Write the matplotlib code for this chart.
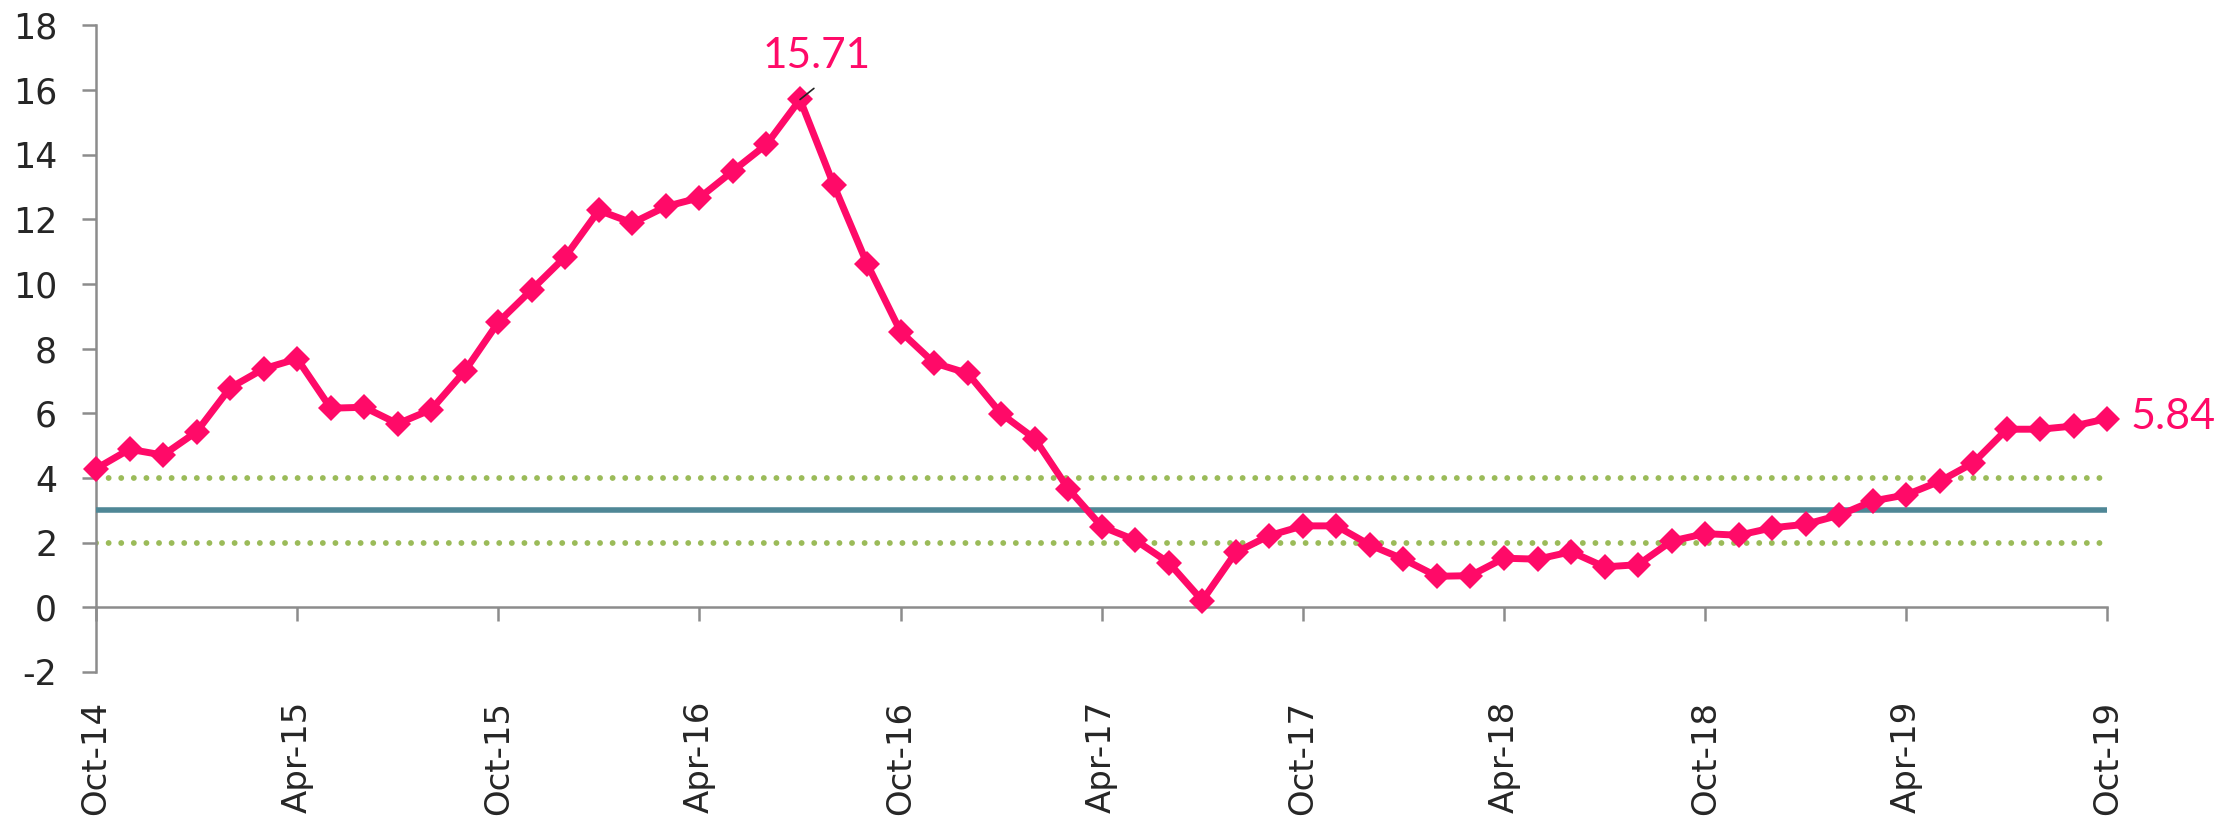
import matplotlib
matplotlib.use('Agg')
import matplotlib.pyplot as plt
import pandas as pd

# ---------------- data ----------------
months = list(pd.date_range('2014-10-01', periods=61, freq='MS').strftime('%b-%y'))
inflation = [4.29, 4.89, 4.71, 5.43, 6.79, 7.38, 7.69, 6.16, 6.19, 5.68, 6.12, 7.31, 8.82, 9.83, 10.85,
             12.28, 11.89, 12.40, 12.67, 13.50, 14.32, 15.71, 13.08, 10.63, 8.53, 7.56, 7.24, 5.99, 5.22, 3.67,
             2.50, 2.08, 1.38, 0.21, 1.70, 2.22, 2.52, 2.52, 1.93, 1.49, 0.96, 0.98, 1.52, 1.49, 1.72, 1.25, 1.32,
             2.05, 2.28, 2.23, 2.46, 2.57, 2.85, 3.29, 3.48, 3.90, 4.47, 5.51, 5.51, 5.61, 5.84]
target = [3.0] * len(months)
band_upper = [4.0] * len(months)
band_lower = [2.0] * len(months)
tick_labels = ['Oct-14', 'Apr-15', 'Oct-15', 'Apr-16', 'Oct-16', 'Apr-17',
               'Oct-17', 'Apr-18', 'Oct-18', 'Apr-19', 'Oct-19']
y_ticks = [-2, 0, 2, 4, 6, 8, 10, 12, 14, 16, 18]
peak_label = '15.71'
last_label = '5.84'

# ---------------- style ----------------
pink = '#FF0A68'
teal = '#4F8796'
green = '#9BBB59'
axis_gray = '#8C8C8C'
text_dark = '#262626'

fig = plt.figure(figsize=(22.23, 8.19), dpi=100)
ax = fig.add_axes([0.0432, 0.1795, 0.9048, 0.7894])

x = list(range(len(months)))
ax.plot(x, band_upper, color=green, lw=4.2, linestyle=(0, (0.01, 2.15)),
        dash_capstyle='round', zorder=2)
ax.plot(x, band_lower, color=green, lw=4.2, linestyle=(0, (0.01, 2.15)),
        dash_capstyle='round', zorder=2)
ax.plot(x, target, color=teal, lw=4.0, solid_capstyle='round', zorder=3)
ax.plot(x, inflation, color=pink, lw=5.0, marker='D', ms=13,
        markeredgewidth=0, clip_on=False, zorder=5)

ax.set_xlim(0, len(months) - 1)
ax.set_ylim(-2, 18)

for s in ['top', 'right']:
    ax.spines[s].set_visible(False)
ax.spines['bottom'].set_position(('data', 0))
for s in ['bottom', 'left']:
    ax.spines[s].set_color(axis_gray)
    ax.spines[s].set_linewidth(1.8)

tick_pos = [months.index(lbl) for lbl in tick_labels]
ax.set_xticks(tick_pos)
ax.set_xticklabels(tick_labels, rotation=90, fontsize=24.5, color=text_dark,
                   family='DejaVu Sans', va='top', ha='center')
ax.tick_params(axis='x', direction='out', length=10, width=1.8, color=axis_gray, pad=57)

ax.set_yticks(y_ticks)
ax.set_yticklabels([str(v) for v in y_ticks], fontsize=25, color=text_dark, family='DejaVu Sans')
ax.tick_params(axis='y', direction='out', length=10, width=1.8, color=axis_gray, pad=18)

# annotations
peak_idx = inflation.index(max(inflation))
ax.annotate('', xy=(peak_idx, inflation[peak_idx]), xytext=(10, 8),
            textcoords='offset points',
            arrowprops=dict(arrowstyle='-', color='#222222', lw=1.2, shrinkA=0, shrinkB=0),
            zorder=6)
ax.annotate(peak_label, xy=(peak_idx, inflation[peak_idx]), xytext=(12, 31),
            textcoords='offset points', ha='center', va='center',
            fontsize=30.5, color=pink, family=['Lato', 'DejaVu Sans'], annotation_clip=False)
ax.annotate(last_label, xy=(x[-1], inflation[-1]), xytext=(17, 1),
            textcoords='offset points', ha='left', va='center',
            fontsize=31, color=pink, family=['Lato', 'DejaVu Sans'], annotation_clip=False)

fig.savefig('out.png', dpi=100)
